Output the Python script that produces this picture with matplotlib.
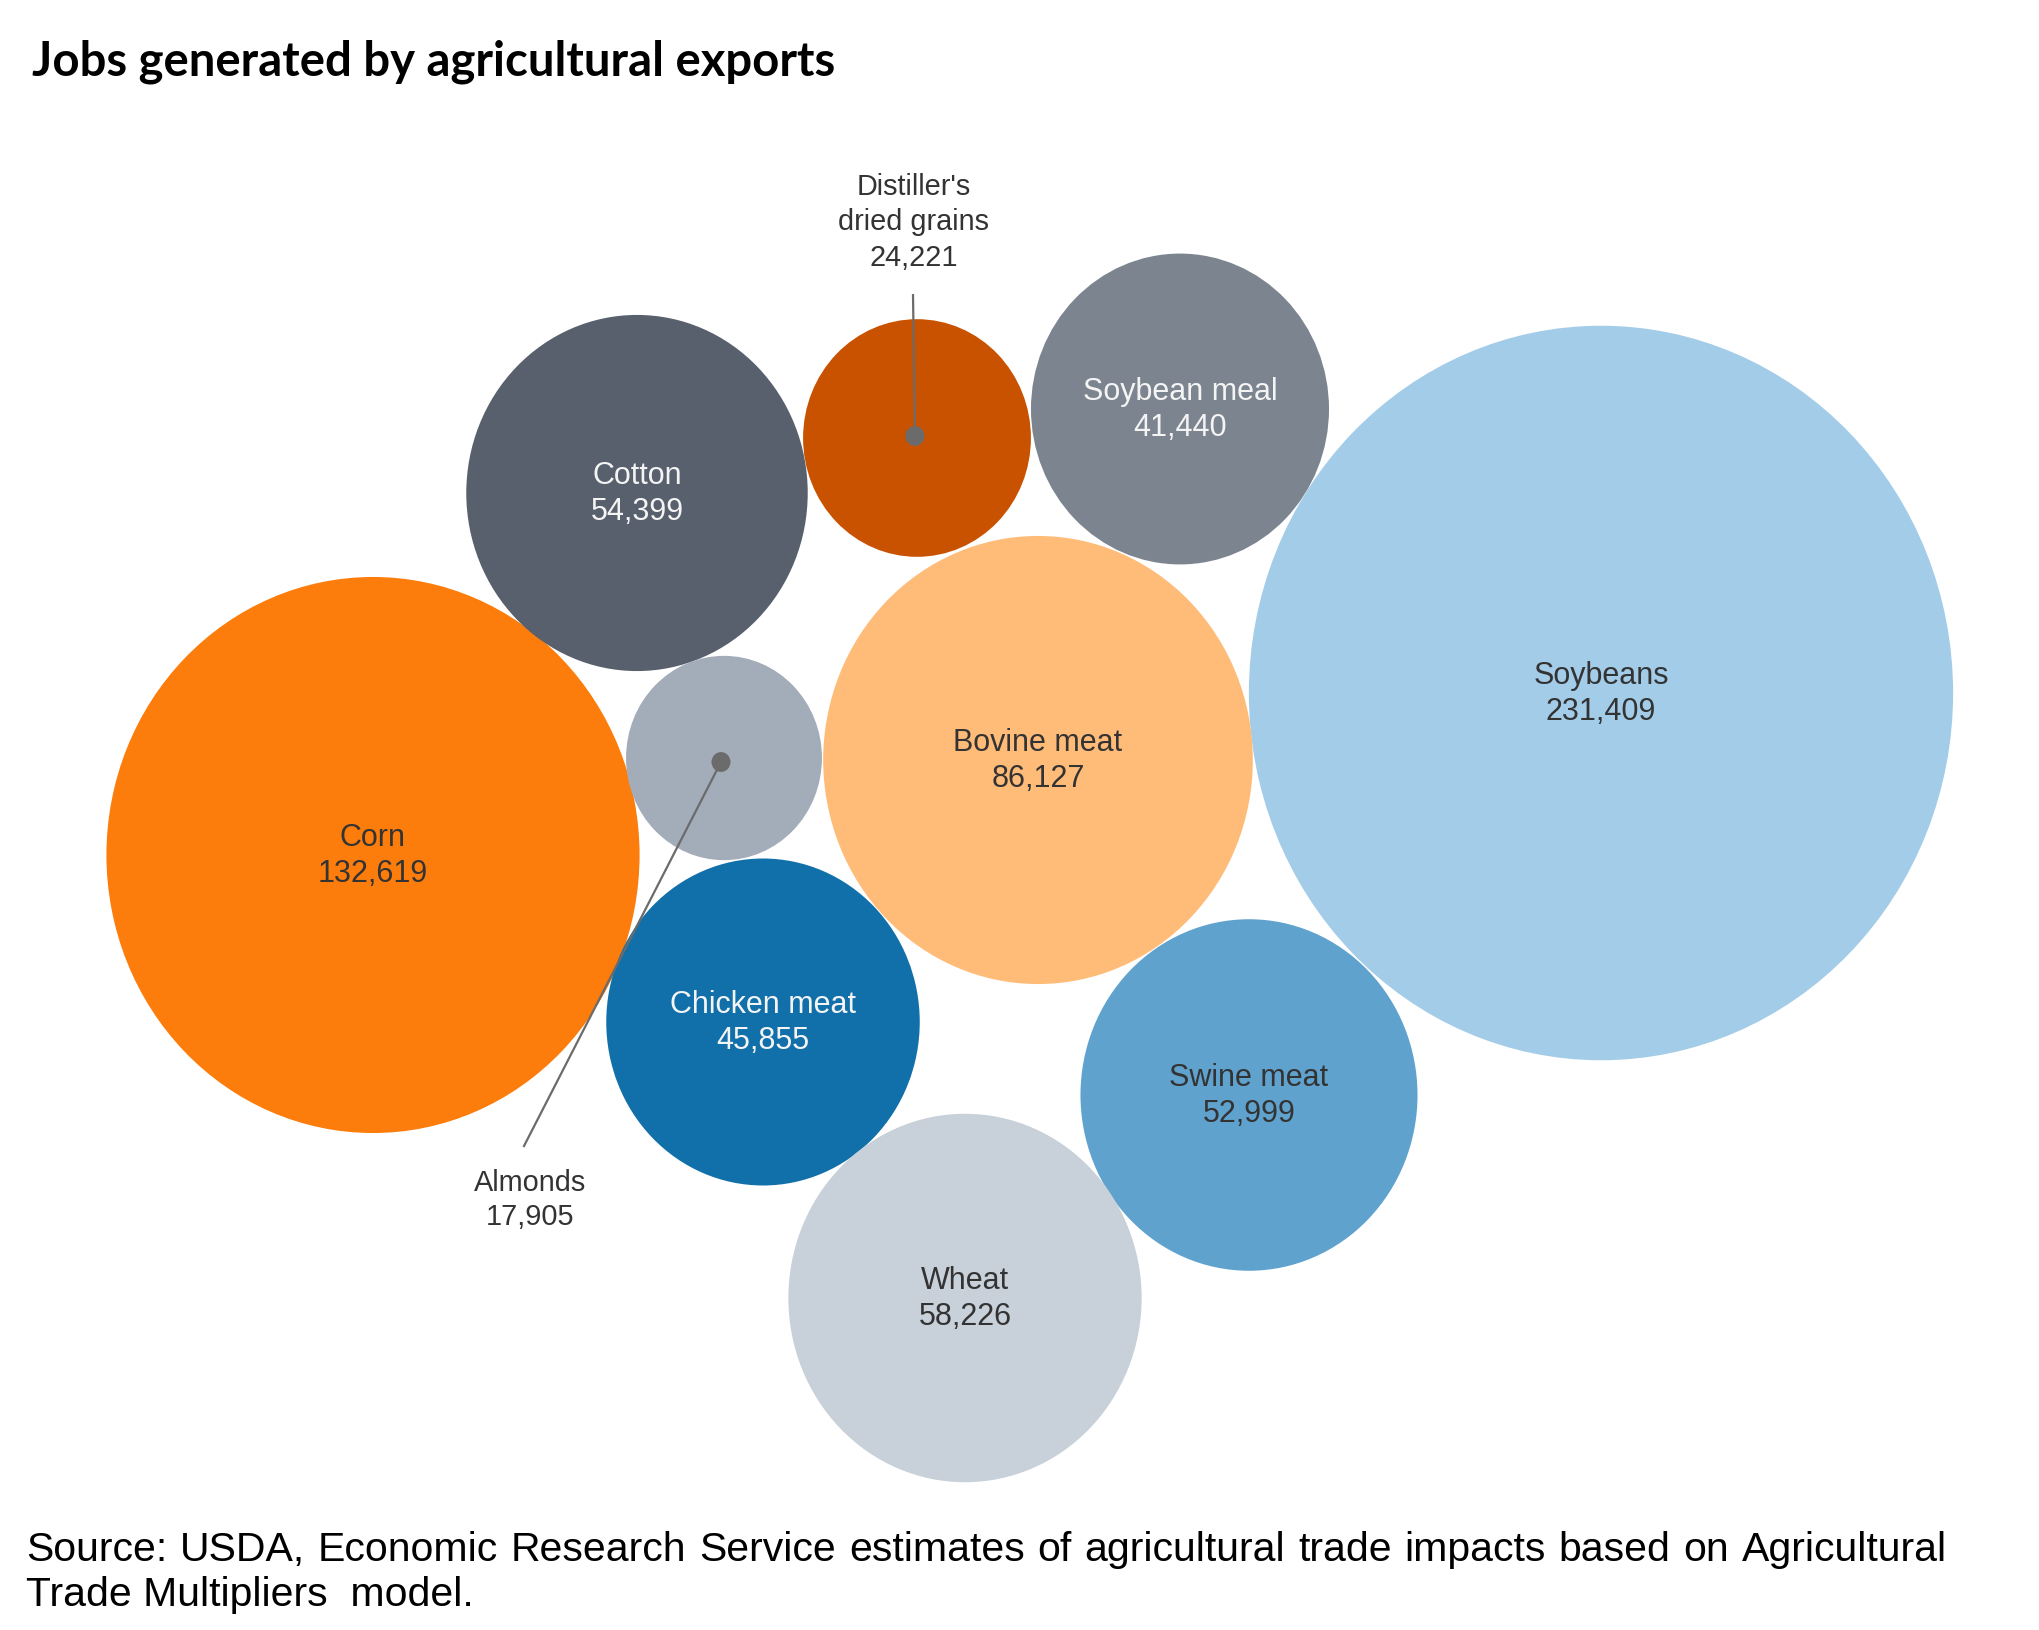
import matplotlib
matplotlib.use("Agg")
import matplotlib.pyplot as plt
from matplotlib.patches import Ellipse
import numpy as np

# ---- data ----
categories = ["Corn", "Cotton", "Distiller's\ndried grains", "Soybean meal", "Soybeans",
              "Almonds", "Bovine meat", "Chicken meat", "Swine meat", "Wheat"]
jobs = [132619, 54399, 24221, 41440, 231409, 17905, 86127, 45855, 52999, 58226]

# ---- layout (pixel positions of bubble centres) ----
center_x = [373, 637, 917, 1180, 1601, 724, 1038, 763, 1249, 965]
center_y = [855, 493, 438, 409, 693, 758, 760, 1022, 1095, 1298]
colors = ["#fc7d0b", "#57606c", "#c85200", "#7b848f", "#a3cce9",
          "#a3acb9", "#ffbc79", "#1170aa", "#5fa2ce", "#c8d0d9"]
label_colors = ["#333333", "#f4f4f4", None, "#f4f4f4", "#333333",
                None, "#333333", "#f4f4f4", "#333333", "#333333"]

W, H = 2040, 1630
fig = plt.figure(figsize=(W / 100, H / 100), dpi=100)
ax = fig.add_axes([0, 0, 1, 1])
ax.set_xlim(0, W)
ax.set_ylim(H, 0)
ax.axis("off")

k = 0.732          # radius scale: r = k * sqrt(value)
stretch = 1.043    # vertical stretch of the original rendering

inner_font = dict(family=["Liberation Sans", "DejaVu Sans"], fontsize=22)
call_font = dict(family=["Liberation Sans", "DejaVu Sans"], fontsize=20.8)

for name, v, cx, cy, c, lc in zip(categories, jobs, center_x, center_y, colors, label_colors):
    r = k * np.sqrt(v)
    ax.add_patch(Ellipse((cx, cy), 2 * r, 2 * r * stretch, facecolor=c, edgecolor="none", zorder=1))
    if lc is not None:
        ax.text(cx, cy - 9, name, ha="center", va="baseline", color=lc, zorder=3, **inner_font)
        ax.text(cx, cy + 27, f"{v:,}", ha="center", va="baseline", color=lc, zorder=3, **inner_font)

# callouts for small bubbles
line_col = "#6b6b6b"
# Distiller's dried grains
i = 2
dot = (915, 436)
ax.plot([913, dot[0]], [294, dot[1]], color=line_col, lw=1.6, zorder=2, solid_capstyle="butt")
ax.add_patch(Ellipse(dot, 19, 19 * stretch, facecolor=line_col, edgecolor="none", zorder=3))
ax.text(914, 195, "Distiller's", ha="center", va="baseline", color="#333333", **call_font)
ax.text(914, 230, "dried grains", ha="center", va="baseline", color="#333333", **call_font)
ax.text(914, 266, f"{jobs[i]:,}", ha="center", va="baseline", color="#333333", **call_font)

# Almonds
i = 5
dot = (721, 762)
ax.plot([dot[0], 524], [dot[1], 1146], color=line_col, lw=1.6, zorder=2)
ax.add_patch(Ellipse(dot, 19, 19 * stretch, facecolor=line_col, edgecolor="none", zorder=3))
ax.text(530, 1191, categories[i], ha="center", va="baseline", color="#333333", **call_font)
ax.text(530, 1225, f"{jobs[i]:,}", ha="center", va="baseline", color="#333333", **call_font)

# title
ax.text(32, 75, "Jobs generated by agricultural exports", ha="left", va="baseline",
        fontsize=34, fontweight="bold", family=["Lato", "DejaVu Sans"], color="black")

# source (first line justified to the full width, as in the original)
src_font = dict(family=["Liberation Sans", "DejaVu Sans"], fontsize=29.5, color="black")
line1 = "Source: USDA, Economic Research Service estimates of agricultural trade impacts based on Agricultural"
x0, x1 = 26, 1947
renderer = fig.canvas.get_renderer()
words = line1.split(" ")
texts = [ax.text(0, 1561, w, ha="left", va="baseline", **src_font) for w in words]
widths = [t.get_window_extent(renderer).width for t in texts]
gap = max((x1 - x0 - sum(widths)) / (len(words) - 1), 6)
x = x0
for t, wd in zip(texts, widths):
    t.set_x(x)
    x += wd + gap
ax.text(x0, 1606, "Trade Multipliers  model.", ha="left", va="baseline", **src_font)

fig.savefig("out.png", dpi=100, facecolor="white")
